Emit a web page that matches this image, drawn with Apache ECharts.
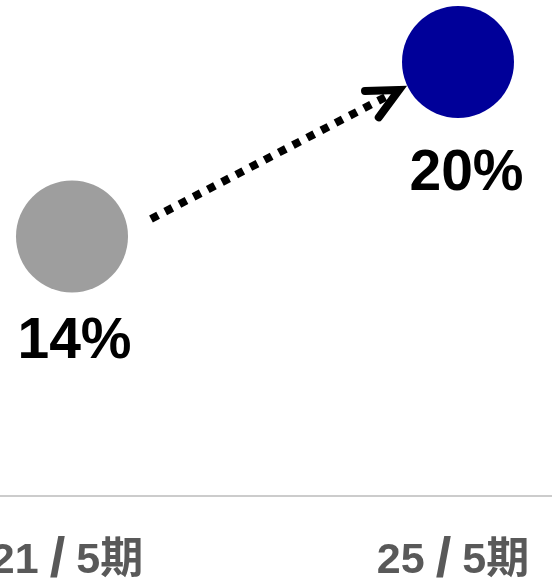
<!DOCTYPE html>
<html>
<head>
<meta charset="utf-8">
<script src="https://cdn.jsdelivr.net/npm/echarts@6/dist/echarts.min.js"></script>
<style>
  html, body { margin: 0; padding: 0; background: #ffffff; }
  #chart { width: 552px; height: 580px; }
</style>
</head>
<body>
<div id="chart"></div>
<script>
// Periods on the x axis
const categories = ['21/5期', '25/5期'];
// Ratio (%) for each period
const values = [14, 20];
// Marker colours per period
const pointColors = ['#9e9e9e', '#000099'];
// Value label text
const valueLabels = ['14%', '20%'];

const FONT = '"Liberation Sans", "Noto Sans CJK JP", sans-serif';

const chart = echarts.init(document.getElementById('chart'), null, { renderer: 'canvas' });

const labelOffsets = [[2.5, 105.5], [8.5, 112.5]];
const categoryIndex = categories.map((c, i) => i);

// Period label: the slash gets its own spacing
function periodLabel(v) {
  const name = categories[Math.round(v)] || '';
  const parts = name.split('/');
  if (parts.length !== 2) return name;
  return '{t|' + parts[0] + '}{s|/}{t|' + parts[1] + '}';
}

const labelText = {
  color: '#595959',
  fontFamily: FONT,
  fontWeight: 'bold',
  fontSize: 43
};

chart.setOption({
  animation: false,
  backgroundColor: '#ffffff',
  grid: { left: 0, right: 0, top: 0, bottom: 84, containLabel: false, outerBoundsMode: 'none' },
  xAxis: {
    type: 'value',
    min: -0.18653,
    max: 1.24352,
    axisLine: { show: true, onZero: false, lineStyle: { color: '#cccccc', width: 2 } },
    axisTick: { show: false, customValues: categoryIndex },
    splitLine: { show: false },
    axisLabel: {
      show: true,
      customValues: categoryIndex,
      formatter: periodLabel,
      margin: 37,
      padding: [0, 10, 0, 0],
      hideOverlap: false,
      ...labelText,
      rich: {
        t: { ...labelText },
        s: { ...labelText, fontSize: 56, padding: [0, 11, 0, 11] }
      }
    }
  },
  yAxis: {
    type: 'value',
    min: 5.077,
    max: 22.132,
    show: false,
    splitLine: { show: false }
  },
  series: [{
    type: 'scatter',
    symbol: 'circle',
    symbolSize: 112,
    data: values.map((v, i) => ({
      value: [categoryIndex[i], v],
      itemStyle: { color: pointColors[i], opacity: 1 },
      label: {
        show: true,
        position: 'inside',
        offset: labelOffsets[i],
        formatter: valueLabels[i],
        color: '#000000',
        fontFamily: FONT,
        fontWeight: 'bold',
        fontSize: 57,
        align: 'center',
        verticalAlign: 'middle'
      }
    })),
    emphasis: { disabled: true }
  }]
});

// Dotted arrow from the first point towards the second one
function drawArrow() {
  const p0 = chart.convertToPixel({ gridIndex: 0 }, [0, values[0]]);
  const p1 = chart.convertToPixel({ gridIndex: 0 }, [1, values[1]]);
  const start = [p0[0] + 79, p0[1] - 17.5];
  const tip = [p1[0] - 59, p1[1] + 28];
  const dx = tip[0] - start[0], dy = tip[1] - start[1];
  const len = Math.sqrt(dx * dx + dy * dy);
  const ux = dx / len, uy = dy / len;
  const back = Math.atan2(-uy, -ux);
  const spread = 26 * Math.PI / 180;
  const armLen = 34;
  const a1 = [tip[0] + Math.cos(back - spread) * armLen, tip[1] + Math.sin(back - spread) * armLen];
  const a2 = [tip[0] + Math.cos(back + spread) * armLen, tip[1] + Math.sin(back + spread) * armLen];
  const lineEnd = [tip[0] - ux * 7, tip[1] - uy * 7];

  chart.setOption({
    graphic: [
      {
        type: 'line',
        id: 'arrowLine',
        shape: { x1: start[0], y1: start[1], x2: lineEnd[0], y2: lineEnd[1] },
        style: { stroke: '#000000', lineWidth: 8, lineDash: [8, 8], lineCap: 'butt' },
        silent: true
      },
      {
        type: 'polyline',
        id: 'arrowHead',
        shape: { points: [a1, tip, a2] },
        style: { stroke: '#000000', fill: null, lineWidth: 8, lineCap: 'round', lineJoin: 'miter' },
        silent: true
      }
    ]
  });
}
drawArrow();
</script>
</body>
</html>
